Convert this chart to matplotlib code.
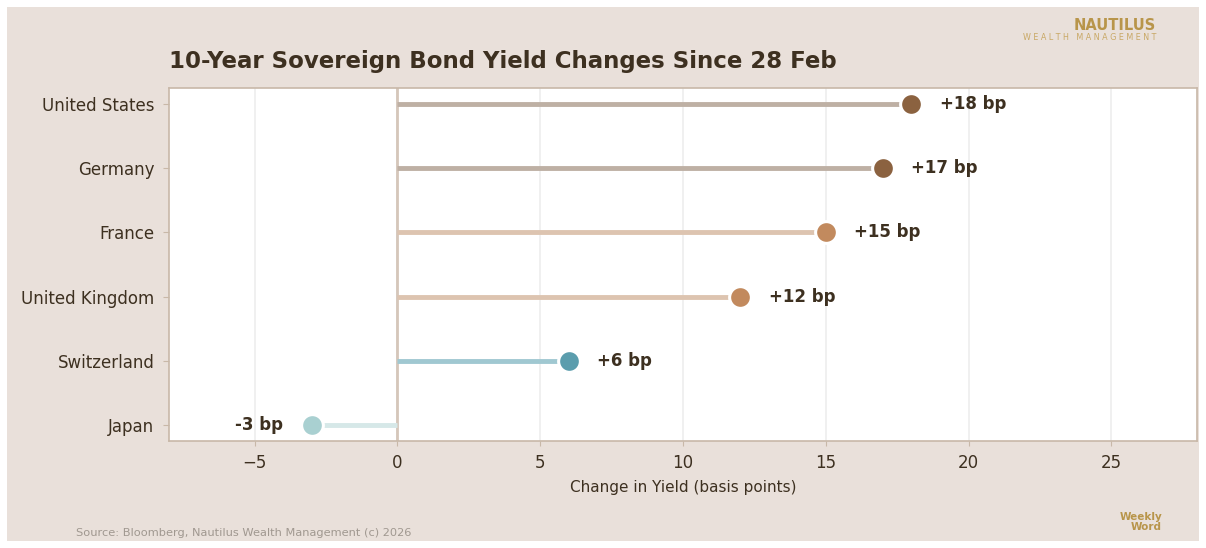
import matplotlib
matplotlib.use("Agg")
import matplotlib.pyplot as plt
from matplotlib.patches import Rectangle

plt.rcParams["font.family"] = ["DejaVu Sans"]

countries = ["United States", "Germany", "France", "United Kingdom", "Switzerland", "Japan"]
changes = [18, 17, 15, 12, 6, -3]
labels = ["+18 bp", "+17 bp", "+15 bp", "+12 bp", "+6 bp", "-3 bp"]
dot_colors = ["#8B6240", "#8B6240", "#C28A5E", "#C28A5E", "#5B9DAD", "#A9D0D1"]
line_colors = ["#BEB0A4", "#BEB0A4", "#DDC4B0", "#DDC4B0", "#A0C8D1", "#D6E8E8"]

BG = "#E9E0DA"
TXT = "#3D3020"

fig = plt.figure(figsize=(12.06, 5.48), dpi=100)
fig.patch.set_facecolor("white")
fig.patches.append(Rectangle((7/1206, 7/548), 1 - 14/1206, 1 - 14/548,
                             transform=fig.transFigure, facecolor=BG, edgecolor="none", zorder=-10))

W, H = 1206, 548
ax = fig.add_axes([169/W, 1 - 441/H, (1197-169)/W, (441-88)/H])
ax.set_facecolor("white")

ypos = list(range(len(countries)))
ax.axvline(0, color="#D5C6BA", lw=2, zorder=1)
for y, v, lc, dc, lab in zip(ypos, changes, line_colors, dot_colors, labels):
    ax.plot([0, v], [y, y], color=lc, lw=3.5, solid_capstyle="butt", zorder=2)
    ax.scatter([v], [y], s=245, color=dc, edgecolors="white", linewidths=2.2, zorder=3)
    if v >= 0:
        ax.text(v + 1.0, y, lab, ha="left", va="center", fontsize=12, fontweight="bold", color=TXT)
    else:
        ax.text(v - 1.0, y, lab, ha="right", va="center", fontsize=12, fontweight="bold", color=TXT)

ax.set_xlim(-8, 28)
ax.set_ylim(len(countries) - 0.75, -0.25)
ax.set_yticks(ypos)
ax.set_yticklabels(countries)
ax.set_xticks([-5, 0, 5, 10, 15, 20, 25])
ax.tick_params(axis="both", colors="#C8B8A8", labelcolor=TXT, labelsize=12)
ax.tick_params(axis="y", length=4.5, pad=6)
ax.tick_params(axis="x", pad=5.5)
ax.grid(axis="x", color="#EEEEEE", lw=1.2)
ax.set_axisbelow(True)
for s in ax.spines.values():
    s.set_color("#C8B8A8")
    s.set_linewidth(1.2)
ax.set_xlabel("Change in Yield (basis points)", fontsize=11, color=TXT, labelpad=6)

fig.text(169/W, 1 - 61/H, "10-Year Sovereign Bond Yield Changes Since 28 Feb",
         fontsize=16.5, fontweight="bold", color=TXT, ha="left", va="center")
fig.text(1156/W, 1 - 26/H, "NAUTILUS", fontsize=10.5, fontweight="bold", color="#B8954A",
         ha="right", va="center")
fig.text(1156/W, 1 - 38/H, "W E A L T H   M A N A G E M E N T", fontsize=5.8, color="#C9A865",
         ha="right", va="center")
fig.text(1162/W, 1 - 522/H, "Weekly\nWord", fontsize=7.5, fontweight="bold", color="#B8954A",
         ha="right", va="center", linespacing=0.9)
fig.text(76/W, 1 - 533/H, "Source: Bloomberg, Nautilus Wealth Management (c) 2026",
         fontsize=8.2, color="#A09890", ha="left", va="center")

fig.savefig("out.png", dpi=100, facecolor=fig.get_facecolor())
